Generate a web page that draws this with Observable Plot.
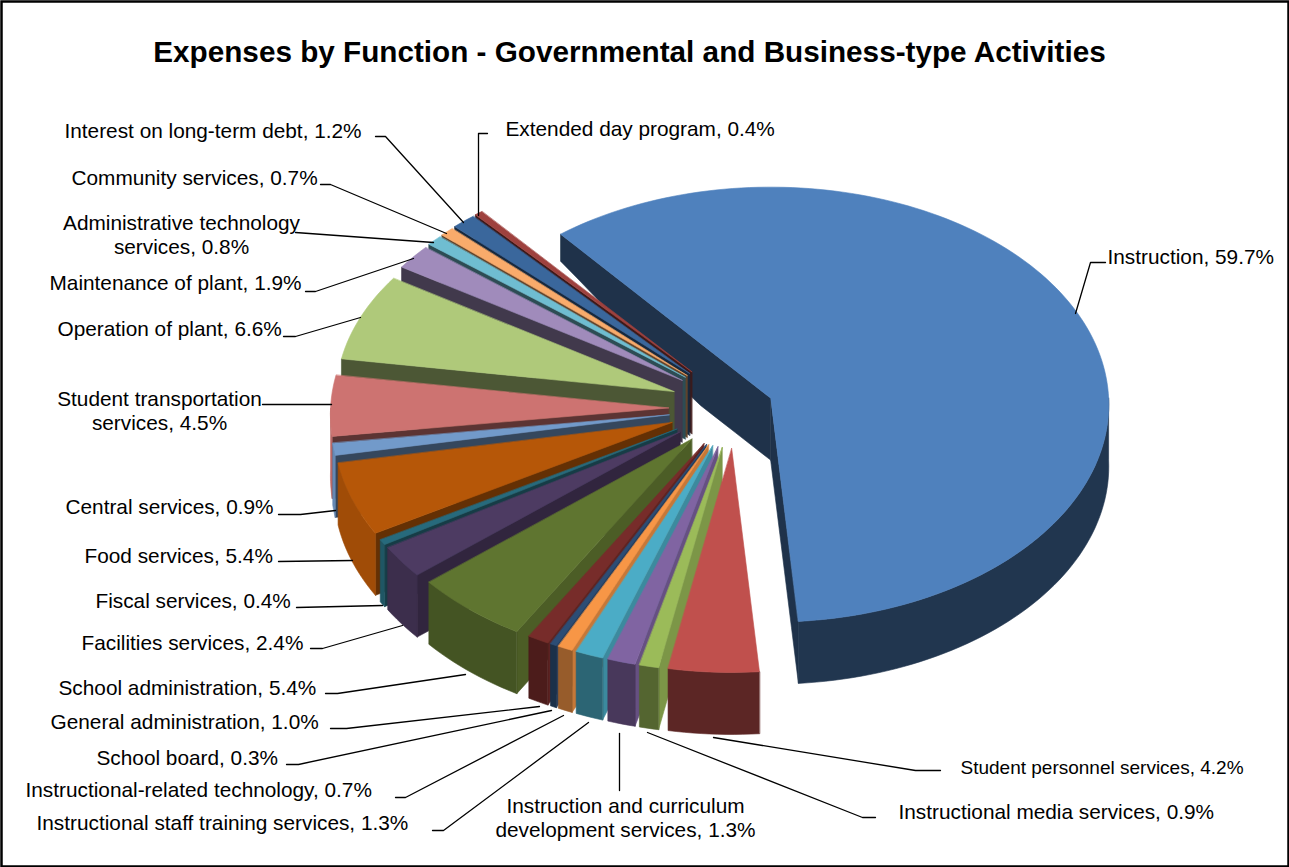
<!DOCTYPE html>
<html>
<head>
<meta charset="utf-8">
<script src="https://cdn.jsdelivr.net/npm/d3@7"></script>
<script src="https://cdn.jsdelivr.net/npm/@observablehq/plot@0.6"></script>
<style>
html,body{margin:0;padding:0;background:#fff;overflow:hidden}
svg{display:block}
</style>
</head>
<body>
<div id="chart"></div>
<script>
const chartTitle = "Expenses by Function - Governmental and Business-type Activities";
const categories = ["Instruction","Student personnel services","Instructional media services","Instruction and curriculum development services","Instructional staff training services","Instructional-related technology","School board","General administration","School administration","Facilities services","Fiscal services","Food services","Central services","Student transportation services","Operation of plant","Maintenance of plant","Administrative technology services","Community services","Interest on long-term debt","Extended day program"];
const shares = [59.7,4.2,0.9,1.3,1.3,0.7,0.3,1.0,5.4,2.4,0.4,5.4,0.9,4.5,6.6,1.9,0.8,0.7,1.2,0.4];
const colors = ["#4F81BD","#C0504D","#9BBB59","#8064A2","#4BACC6","#F79646","#2C4D75","#772C2A","#5F7530","#4D3B62","#276A7C","#B65708","#729ACA","#CD7371","#AFC97A","#A08BBB","#6FBDD1","#F9AB6B","#3A679C","#9E413E"];

// label layout (kept apart from the values)
const labelBreaks = {3:"Instruction and curriculum\ndevelopment services, 1.3%",13:"Student transportation\nservices, 4.5%",16:"Administrative technology\nservices, 0.8%"};
const labelX = [1107,960,898,625,36,25,96,50,58,81,95,84,65,159,57,49,181,71,64,505];
const labelY = [257,767,812,817,823,790,758,722,688,643,601,556,507,410,329,283,234,178,131,129];
const labelSize = [20.8,19,20.8,20.8,20.8,20.8,20.8,20.8,20.8,20.8,20.8,20.8,20.8,20.8,20.8,20.8,20.8,20.8,20.8,20.8];
const leaderPaths = [
 [[1105,262],[1090,262],[1075,313]],
 [[940,770],[915,770],[713,737]],
 [[875,817],[862,817],[647,732]],
 [[619,790],[619,733]],
 [[432,830],[443,830],[588,722]],
 [[395,797],[405,797],[563,715]],
 [[286,764],[298,764],[551,710]],
 [[330,728],[346,728],[539,706]],
 [[325,693],[337,693],[465,674]],
 [[310,648],[322,648],[402,625]],
 [[296,607],[382,605]],
 [[278,561],[352,560]],
 [[278,514],[300,514],[335,510]],
 [[262,404],[331,404]],
 [[283,336],[295,336],[360,317]],
 [[305,291],[315,291],[413,258]],
 [[295,232],[433,242]],
 [[320,184],[330,184],[446,233]],
 [[375,136],[385,136],[463,222]],
 [[487,133],[478,133],[478,215]]
];

// projection of the tilted, exploded pie
const rad = Math.PI/180, startAngle = -39.5;
const depthAt = y => Math.max(27, Math.min(62, 27 + (y-235)*0.34));
const wallShade = d3.scaleLinear([100,120,150,172,230],[.8,.8,.55,.45,.39]).clamp(true);
const rimShade = d3.scaleLinear([175,190,200,220,235,250,270],[.42,.53,.58,.72,.78,.88,.9]).clamp(true);
const shade = (c,k)=>{const r=d3.rgb(c);return d3.rgb(r.r*k,r.g*k,r.b*k).formatHex();};

let acc = 0;
const slices = shares.map((v,i)=>{
  const a1 = startAngle + acc*3.6; acc += v;
  const a2 = startAngle + acc*3.6; const mid=(a1+a2)/2;
  const c = Math.cos(mid*rad), s = Math.sin(mid*rad);
  const backLeft = s<0 ? Math.max(0,c) : 0;
  return {i,a1,a2,mid,color:colors[i],backLeft,
    cx:721+53*s+13*Math.pow(Math.max(0,-c),4)+6*backLeft,
    cy:408-40*c+5*Math.max(0,s)-8*backLeft};
});
const rim = (sl,a)=>{
  const c=Math.cos(a*rad), s=Math.sin(a*rad);
  const ry = 217.5-6.5*c-(sl.backLeft>0?6*c:0);
  return [sl.cx+(338-10*c)*s, sl.cy-ry*c];
};
const arc = (sl,a,b)=>{const n=Math.max(2,Math.ceil(Math.abs(b-a)/1.5));return d3.range(n+1).map(k=>rim(sl,a+(b-a)*k/n));};
const drop = p=>[p[0],p[1]+depthAt(p[1])];
const along = (p,q)=>d3.range(13).map(k=>[p[0]+(q[0]-p[0])*k/12,p[1]+(q[1]-p[1])*k/12]);

const polygons = [];
// largest slice first, the others from back to front
const sorted = slices.slice().sort((p,q)=>(p.i===0?-1:q.i===0?1:Math.cos(q.mid*rad)-Math.cos(p.mid*rad)));
sorted.forEach(sl=>{
  const apex=[sl.cx,sl.cy];
  const add=(name,pts,color)=>polygons.push({id:sl.i+name,pts,color});
  const wall=(a,n)=>{
    if(Math.cos(n*rad)>=0) return;
    const edge=along(apex,rim(sl,a));
    const nn=((n%360)+360)%360;
    add("w"+a,edge.concat(edge.slice().reverse().map(drop)),shade(sl.color,wallShade(nn)));
  };
  wall(sl.a1,sl.a1-90);
  wall(sl.a2,sl.a2+90);
  const lo=Math.max(sl.a1,90), hi=Math.min(sl.a2,270);
  if(hi>lo){
    const top=arc(sl,lo,hi);
    add("r",top.concat(top.slice().reverse().map(drop)),shade(sl.color,rimShade(sl.mid)));
  }
  add("t",[apex].concat(arc(sl,sl.a1,sl.a2)),sl.color);
});
const polyPoints = polygons.flatMap(p=>p.pts.map(q=>({id:p.id,color:p.color,x:q[0],y:q[1]})));

const labelRows = categories.map((c,i)=>({
  text: labelBreaks[i] || `${c}, ${shares[i].toFixed(1)}%`,
  x:labelX[i], y:labelY[i], size:labelSize[i], centred: !!labelBreaks[i]
}));
const leaderPoints = leaderPaths.flatMap((p,i)=>p.map(q=>({id:i,x:q[0],y:q[1]})));

const plot = Plot.plot({
  width:1289, height:867, margin:0,
  x:{domain:[0,1289],range:[0,1289],axis:null},
  y:{domain:[0,867],range:[0,867],axis:null},
  color:{type:"identity"},
  style:{background:"#fff",fontFamily:"'Liberation Sans',Arial,sans-serif"},
  marks:[
    Plot.line(polyPoints,{x:"x",y:"y",z:"id",fill:"color",stroke:"color",strokeWidth:0.6,curve:"linear-closed"}),
    Plot.line(leaderPoints,{x:"x",y:"y",z:"id",stroke:"#000",strokeWidth:1.3,curve:"linear"}),
    Plot.text(labelRows.filter(d=>!d.centred),{x:"x",y:"y",text:"text",textAnchor:"start",fontSize:d=>d.size,fill:"#000"}),
    Plot.text(labelRows.filter(d=>d.centred),{x:"x",y:"y",text:"text",textAnchor:"middle",lineAnchor:"middle",lineHeight:1.14,fontSize:20.8,fill:"#000"}),
    Plot.text([chartTitle],{x:()=>629,y:()=>52,text:d=>d,fontSize:29.7,fontWeight:"bold",fill:"#000"}),
    Plot.frame({stroke:"#000",strokeWidth:2.5,inset:1})
  ]
});
document.getElementById("chart").appendChild(plot);
</script>
</body>
</html>
